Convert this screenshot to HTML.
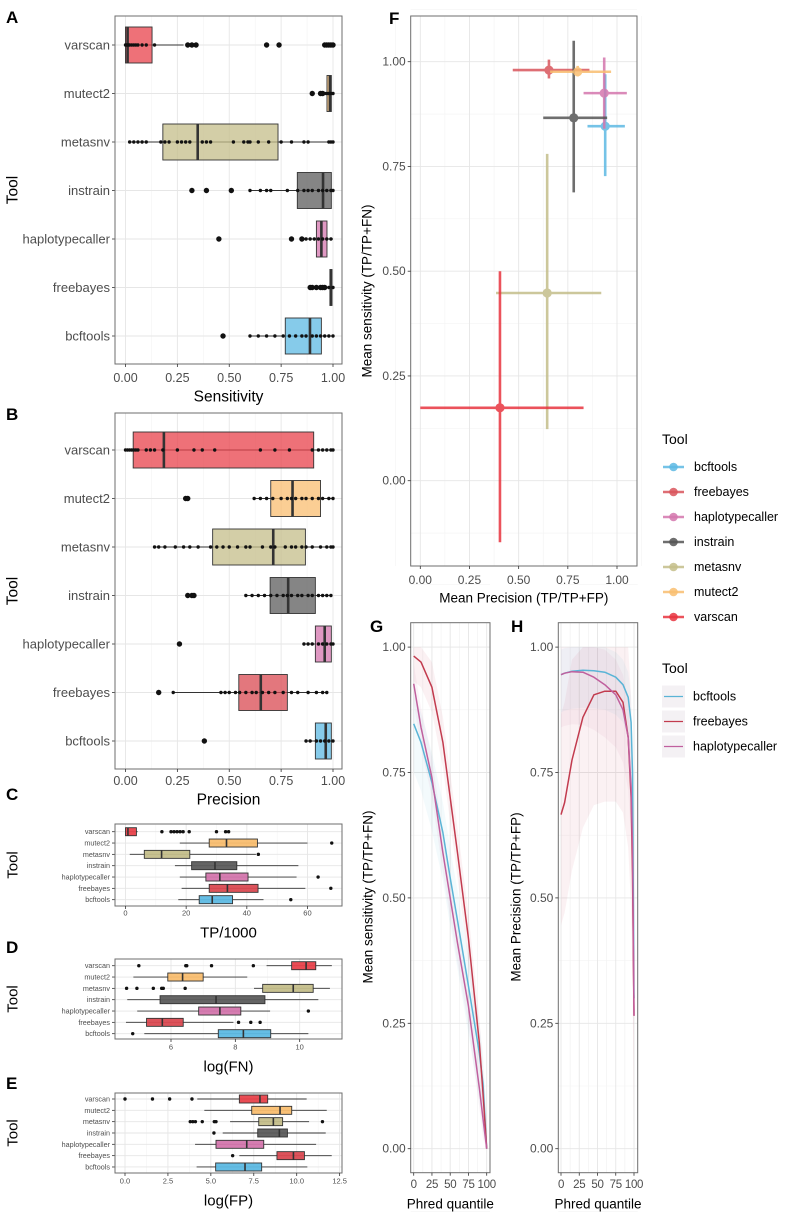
<!DOCTYPE html>
<html><head><meta charset="utf-8">
<style>
html,body{margin:0;padding:0;background:#fff;}
svg{display:block;font-family:"Liberation Sans",Arial,sans-serif;}
</style></head>
<body>
<svg id="fig" width="787" height="1217" viewBox="0 0 787 1217" xmlns="http://www.w3.org/2000/svg"></svg>
<script>
// ===== shared =====
const tools = ["varscan","mutect2","metasnv","instrain","haplotypecaller","freebayes","bcftools"];
const toolColors = ["#E8424B","#F9BE70","#C4BE8A","#5C5C5C","#D476AD","#DA4A52","#5DB9E3"];

// ===== Panel A: Sensitivity =====
const aQ1 = [0.0,0.971,0.18,0.828,0.92,0.985,0.77];
const aMed = [0.01,0.985,0.348,0.952,0.944,0.99,0.889];
const aQ3 = [0.128,0.992,0.735,0.992,0.971,0.995,0.944];
const aLo = [0.0,0.96,0.02,0.6,0.87,0.97,0.6];
const aHi = [0.28,1.0,1.0,1.0,1.0,1.0,1.0];
const aOut = [[0.3,0.32,0.34,0.68,0.74,0.96,0.97,0.98,0.99,1.0],[0.9,0.94,0.95],[],[0.32,0.39,0.51],[0.45,0.8,0.85],[0.89,0.9,0.92,0.94,0.95,0.96],[0.47]];
const aPts = [[0,0.005,0.01,0.015,0.02,0.03,0.04,0.05,0.06,0.08,0.1,0.14],[0.96,0.97,0.98,0.99,1.0],
 [0.02,0.04,0.06,0.08,0.1,0.17,0.19,0.21,0.25,0.27,0.29,0.31,0.37,0.39,0.41,0.52,0.57,0.59,0.6,0.64,0.69,0.75,0.8,0.86,0.88,0.98,0.99,1.0],
 [0.6,0.65,0.68,0.7,0.78,0.83,0.86,0.88,0.9,0.93,0.95,0.97,0.99,1.0],[0.87,0.89,0.91,0.93,0.95,0.97,0.99],[0.89,0.9,0.92,0.94,0.96,0.98,1.0],
 [0.6,0.64,0.68,0.72,0.76,0.79,0.82,0.85,0.87,0.9,0.92,0.94,0.96,0.98,1.0]];
const unitTicks = [0,0.25,0.5,0.75,1.0];
const unitTickLabels = ["0.00","0.25","0.50","0.75","1.00"];

// ===== Panel B: Precision =====
const bQ1 = [0.037,0.70,0.42,0.697,0.915,0.546,0.915];
const bMed = [0.185,0.805,0.712,0.784,0.96,0.652,0.965];
const bQ3 = [0.907,0.94,0.867,0.915,0.992,0.78,0.992];
const bLo = [0.0,0.62,0.14,0.58,0.86,0.23,0.87];
const bHi = [1.0,1.0,1.0,0.99,1.0,0.97,1.0];
const bOut = [[],[0.29,0.3],[],[0.3,0.32,0.33],[0.26],[0.16],[0.38]];
const bPts = [[0,0.01,0.02,0.03,0.04,0.05,0.06,0.1,0.12,0.14,0.18,0.25,0.33,0.37,0.43,0.65,0.72,0.79,0.9,0.93,0.95,0.97,0.99,1.0],
 [0.62,0.65,0.68,0.71,0.75,0.78,0.8,0.82,0.85,0.87,0.9,0.93,0.95,0.98,1.0],
 [0.14,0.16,0.19,0.24,0.28,0.31,0.35,0.41,0.44,0.47,0.5,0.54,0.58,0.6,0.66,0.7,0.72,0.77,0.8,0.82,0.85,0.87,0.9,0.94,0.97,0.99,1.0],
 [0.58,0.61,0.64,0.67,0.7,0.73,0.76,0.78,0.8,0.83,0.85,0.88,0.9,0.93,0.95,0.97,0.99],
 [0.86,0.88,0.9,0.93,0.95,0.97,0.99,1.0],
 [0.23,0.46,0.48,0.5,0.53,0.55,0.58,0.61,0.63,0.66,0.69,0.72,0.76,0.8,0.83,0.88,0.92,0.95,0.97],
 [0.87,0.89,0.92,0.94,0.96,0.98,1.0]];

// ===== Panel C: TP/1000 =====
const cQ1 = [0,27.6,6.2,21.8,26.5,27.6,24.3];
const cMed = [0.8,33.3,11.9,29.5,31.1,33.6,28.6];
const cQ3 = [3.6,43.5,21.2,36.7,40.4,43.7,35.3];
const cLo = [0,17.9,1.4,16.3,17.9,18.5,17.4];
const cHi = [4,60,43,57,56.4,59.3,45.5];
const cOut = [[12,15,16,17,18,19,21,30,33,34],[68],[43.8],[],[63.5],[67.7],[54.5]];
const cTicks = [0,20,40,60];
const cTickLabels = ["0","20","40","60"];

// ===== Panel D: log(FN) =====
const dQ1 = [9.75,5.9,8.85,5.66,6.86,5.24,7.47];
const dMed = [10.2,6.36,9.8,7.4,7.52,5.73,8.25];
const dQ3 = [10.5,7.0,10.42,8.92,8.17,6.38,9.1];
const dLo = [8.97,4.83,8.58,4.64,4.95,4.6,5.17];
const dHi = [11.0,8.37,10.94,10.58,9.08,7.94,10.27];
const dOut = [[5.0,6.46,6.49,7.26,8.56],[],[4.62,4.94,5.45,5.71,5.76,6.44],[],[10.27],[8.1,8.48,8.77],[4.81]];
const dTicks = [6,8,10];
const dTickLabels = ["6","8","10"];

// ===== Panel E: log(FP) =====
const eQ1 = [6.66,7.38,7.79,7.73,5.3,8.85,5.28];
const eMed = [7.86,9.03,8.64,8.99,7.09,9.81,6.99];
const eQ3 = [8.31,9.71,9.18,9.46,8.08,10.45,7.96];
const eLo = [4.21,4.62,6.12,5.69,4.08,6.66,4.17];
const eHi = [10.58,11.75,10.72,11.69,11.13,12.04,10.62];
const eOut = [[0,1.6,2.6,3.9],[],[3.8,3.95,4.1,4.5,5.2,5.3,11.5],[5.18],[],[6.27],[]];
const eTicks = [0,2.5,5,7.5,10,12.5];
const eTickLabels = ["0.0","2.5","5.0","7.5","10.0","12.5"];

// ===== Panel F =====
const fTools = ["bcftools","freebayes","haplotypecaller","instrain","metasnv","mutect2","varscan"];
const fColors = ["#5DB9E3","#D9555C","#D476AD","#555555","#C4BE8A","#F9BE70","#E8343F"];
const fPrec = [0.94,0.654,0.935,0.78,0.645,0.80,0.405];
const fSens = [0.846,0.98,0.925,0.866,0.448,0.976,0.174];
const fPrecLo = [0.85,0.47,0.83,0.625,0.385,0.66,0.0];
const fPrecHi = [1.04,0.86,1.05,0.95,0.92,0.97,0.83];
const fSensLo = [0.727,0.96,0.84,0.688,0.123,0.965,-0.147];
const fSensHi = [0.97,1.005,1.01,1.05,0.78,0.99,0.50];

// ===== Panels G/H =====
const ghTools = ["bcftools","freebayes","haplotypecaller"];
const ghColors = ["#5AB4D6","#C23B4E","#C0609E"];
const gQ = [0,10,25,40,50,60,75,90,95,100];
const gBcf = [0.847,0.81,0.73,0.63,0.54,0.455,0.325,0.19,0.13,0.0];
const gFree = [0.982,0.97,0.92,0.81,0.70,0.59,0.42,0.21,0.11,0.0];
const gHap = [0.927,0.84,0.74,0.59,0.50,0.41,0.285,0.12,0.06,0.0];
const hQ = [0,5,15,30,45,60,75,85,92,96,98,100];
const hBcf = [0.945,0.948,0.952,0.954,0.953,0.95,0.94,0.925,0.90,0.85,0.75,0.30];
const hHap = [0.945,0.948,0.951,0.95,0.94,0.925,0.905,0.875,0.82,0.72,0.6,0.265];
const hFree = [0.666,0.69,0.775,0.86,0.905,0.912,0.912,0.89,0.82,0.70,0.55,0.265];
const phredTicks = [0,25,50,75,100];
const phredLabels = ["0","25","50","75","100"];

const NS = "http://www.w3.org/2000/svg";
const svg = document.getElementById("fig");
function mk(tag, attrs, parent){ const e = document.createElementNS(NS, tag); for (const k in attrs) e.setAttribute(k, attrs[k]); (parent||svg).appendChild(e); return e; }
function txt(x, y, s, attrs, parent){ const t = mk("text", Object.assign({x:x, y:y}, attrs), parent); t.textContent = s; return t; }

function panelLetter(x, y, s){
  const t = txt(x, y, s, {"font-size":17, "font-weight":"bold", fill:"#000"});
  
  
}
function rotTitle(x, y, s, size, name){
  const t = txt(x, y, s, {"font-size":size, fill:"#000", "text-anchor":"middle", transform:"rotate(-90 "+x+" "+y+")", "dominant-baseline":"central"});
  
  
}

// ===== generic horizontal boxplot =====
function boxPanel(c){
  const g = mk("g", {});
  
  
  const sx = v => c.px0 + (v - c.v0) * c.k;
  const ry = i => c.row0 + i * c.step;
  mk("rect", {x:c.x0, y:c.y0, width:c.x1-c.x0, height:c.y1-c.y0, fill:"#fff"}, g);
  // minor grid
  for (let i = 0; i < c.ticks.length - 1; i++){
    const m = (c.ticks[i] + c.ticks[i+1]) / 2;
    mk("line", {x1:sx(m), x2:sx(m), y1:c.y0, y2:c.y1, stroke:"#F3F3F3", "stroke-width":0.6}, g);
  }
  c.ticks.forEach(t => mk("line", {x1:sx(t), x2:sx(t), y1:c.y0, y2:c.y1, stroke:"#E6E6E6", "stroke-width":0.9}, g));
  tools.forEach((t,i) => mk("line", {x1:c.x0, x2:c.x1, y1:ry(i), y2:ry(i), stroke:"#E6E6E6", "stroke-width":0.9}, g));
  tools.forEach((t,i) => {
    const y = ry(i), h = c.boxH;
    const wl = mk("line", {x1:sx(c.lo[i]), x2:sx(c.hi[i]), y1:y, y2:y, stroke:"#333", "stroke-width":c.wW}, g);
    
    
    const b = mk("rect", {x:sx(c.q1[i]), y:y-h/2, width:Math.max(1, sx(c.q3[i]) - sx(c.q1[i])), height:h, fill:toolColors[i], "fill-opacity":c.op, stroke:"#333", "stroke-width":0.9}, g);
    
    
    mk("line", {x1:sx(c.med[i]), x2:sx(c.med[i]), y1:y-h/2, y2:y+h/2, stroke:"#333", "stroke-width":c.mW}, g);
    (c.out[i]||[]).forEach(v => {
      const o = mk("circle", {cx:sx(v), cy:y, r:c.outR, fill:"#111"}, g);
      
      
    });
    if (c.pts) c.pts[i].forEach(v => {
      const p = mk("circle", {cx:sx(v), cy:y, r:1.7, fill:"#111"}, g);
      
      
    });
    // y tick & label
    mk("line", {x1:c.x0-3, x2:c.x0, y1:y, y2:y, stroke:"#333", "stroke-width":0.8}, g);
    const l = txt(c.x0-5, y, t, {"font-size":c.ls, fill:"#4D4D4D", "text-anchor":"end", "dominant-baseline":"central"}, g);
    
    
  });
  mk("rect", {x:c.x0, y:c.y0, width:c.x1-c.x0, height:c.y1-c.y0, fill:"none", stroke:"#6E6E6E", "stroke-width":1}, g);
  c.ticks.forEach((t,i) => {
    mk("line", {x1:sx(t), x2:sx(t), y1:c.y1, y2:c.y1+3, stroke:"#333", "stroke-width":0.8}, g);
    const l = txt(sx(t), c.tickY, c.tickLabels[i], {"font-size":c.ts, fill:"#4D4D4D", "text-anchor":"middle", "dominant-baseline":"central"}, g);
    
    
  });
  const tt = txt((c.x0+c.x1)/2, c.titleY, c.title, {"font-size":c.tsz, fill:"#000", "text-anchor":"middle", "dominant-baseline":"central"}, g);
  
  
  rotTitle(13, (c.y0+c.y1)/2, "Tool", c.tsz, "y-axis-title");
}

boxPanel({name:"panel-a-sensitivity", x0:115, x1:342, y0:16, y1:364, px0:125.5, v0:0, k:207.5, row0:45, step:48.5, boxH:36, ticks:unitTicks, tickLabels:unitTickLabels, q1:aQ1, med:aMed, q3:aQ3, lo:aLo, hi:aHi, out:aOut, pts:aPts, op:0.75, wW:1.1, mW:2.6, outR:2.7, ls:13, ts:12.5, tickY:378, title:"Sensitivity", titleY:397, tsz:15.5});
boxPanel({name:"panel-b-precision", x0:115, x1:342, y0:413, y1:769, px0:125.5, v0:0, k:207.5, row0:450, step:48.5, boxH:36, ticks:unitTicks, tickLabels:unitTickLabels, q1:bQ1, med:bMed, q3:bQ3, lo:bLo, hi:bHi, out:bOut, pts:bPts, op:0.75, wW:1.1, mW:2.6, outR:2.7, ls:13, ts:12.5, tickY:781, title:"Precision", titleY:800, tsz:15.5});
boxPanel({name:"panel-c-tp", x0:115, x1:342, y0:824, y1:906, px0:125.5, v0:0, k:3.033, row0:831.7, step:11.33, boxH:8, ticks:cTicks, tickLabels:cTickLabels, q1:cQ1, med:cMed, q3:cQ3, lo:cLo, hi:cHi, out:cOut, pts:null, op:0.95, wW:0.9, mW:1.6, outR:1.7, ls:7.2, ts:7.5, tickY:913, title:"TP/1000", titleY:933, tsz:15});
boxPanel({name:"panel-d-fn", x0:115, x1:342, y0:959, y1:1039, px0:171, v0:6, k:32.17, row0:965.7, step:11.33, boxH:8, ticks:dTicks, tickLabels:dTickLabels, q1:dQ1, med:dMed, q3:dQ3, lo:dLo, hi:dHi, out:dOut, pts:null, op:0.95, wW:0.9, mW:1.6, outR:1.7, ls:7.2, ts:7.5, tickY:1047, title:"log(FN)", titleY:1067, tsz:15});
boxPanel({name:"panel-e-fp", x0:115, x1:342, y0:1093, y1:1173, px0:125, v0:0, k:17.17, row0:1099, step:11.33, boxH:8, ticks:eTicks, tickLabels:eTickLabels, q1:eQ1, med:eMed, q3:eQ3, lo:eLo, hi:eHi, out:eOut, pts:null, op:0.95, wW:0.9, mW:1.6, outR:1.7, ls:7.2, ts:7.5, tickY:1181, title:"log(FP)", titleY:1201, tsz:15});

panelLetter(6, 23, "A");
panelLetter(6, 420, "B");
panelLetter(6, 800, "C");
panelLetter(6, 953, "D");
panelLetter(6, 1089, "E");

// ===== Panel F =====
(function(){
  const x0=410.7, x1=637, y0=16, y1=566;
  const sx = v => 420.3 + v*196.7;
  const sy = v => 480.7 - v*419;
  const g = mk("g", {});
  
  
  for (let v=-0.125; v<=1.126; v+=0.25){
    mk("line", {x1:sx(v), x2:sx(v), y1:y0, y2:y1, stroke:"#F3F3F3", "stroke-width":0.6}, g);
    mk("line", {x1:x0, x2:x1, y1:sy(v), y2:sy(v), stroke:"#F3F3F3", "stroke-width":0.6}, g);
  }
  unitTicks.forEach(v => {
    mk("line", {x1:sx(v), x2:sx(v), y1:y0, y2:y1, stroke:"#E6E6E6", "stroke-width":0.9}, g);
    mk("line", {x1:x0, x2:x1, y1:sy(v), y2:sy(v), stroke:"#E6E6E6", "stroke-width":0.9}, g);
  });
  fTools.forEach((t,i) => {
    const gg = mk("g", {opacity:0.85}, g);
    
    
    mk("line", {x1:sx(fPrecLo[i]), x2:sx(fPrecHi[i]), y1:sy(fSens[i]), y2:sy(fSens[i]), stroke:fColors[i], "stroke-width":2.6}, gg);
    mk("line", {x1:sx(fPrec[i]), x2:sx(fPrec[i]), y1:sy(fSensLo[i]), y2:sy(fSensHi[i]), stroke:fColors[i], "stroke-width":2.6}, gg);
    const p = mk("circle", {cx:sx(fPrec[i]), cy:sy(fSens[i]), r:4.6, fill:fColors[i]}, gg);
    
    
  });
  mk("rect", {x:x0, y:y0, width:x1-x0, height:y1-y0, fill:"none", stroke:"#6E6E6E", "stroke-width":1}, g);
  unitTicks.forEach((v,i) => {
    mk("line", {x1:sx(v), x2:sx(v), y1:y1, y2:y1+3, stroke:"#333", "stroke-width":0.8}, g);
    const a = txt(sx(v), 580, unitTickLabels[i], {"font-size":12, fill:"#4D4D4D", "text-anchor":"middle", "dominant-baseline":"central"}, g);
    
    
    mk("line", {x1:x0-3, x2:x0, y1:sy(v), y2:sy(v), stroke:"#333", "stroke-width":0.8}, g);
    const b = txt(x0-5, sy(v), unitTickLabels[i], {"font-size":12, fill:"#4D4D4D", "text-anchor":"end", "dominant-baseline":"central"}, g);
    
    
  });
  const xt = txt((x0+x1)/2, 598, "Mean Precision (TP/TP+FP)", {"font-size":13.5, fill:"#000", "text-anchor":"middle", "dominant-baseline":"central"}, g);
  
  
  rotTitle(367, 291, "Mean sensitivity (TP/TP+FN)", 13.5, "y-axis-title");
  panelLetter(389, 24, "F");
  // legend
  const lg = mk("g", {}, g);
  
  
  const lt = txt(662, 439, "Tool", {"font-size":14, fill:"#000", "dominant-baseline":"central"}, lg);
  
  
  fTools.forEach((t,i) => {
    const y = 467 + i*25;
    const e = mk("g", {}, lg);
    
    
    mk("line", {x1:663, x2:684, y1:y, y2:y, stroke:fColors[i], "stroke-width":2.6, opacity:0.85}, e);
    mk("circle", {cx:673.5, cy:y, r:4.3, fill:fColors[i], opacity:0.85}, e);
    txt(694, y, t, {"font-size":12.5, fill:"#000", "dominant-baseline":"central"}, e);
  });
})();

// ===== Panels G & H =====
function linePanel(c){
  const g = mk("g", {});
  
  
  const sx = q => c.qx0 + q*0.73;
  const sy = v => 1148.7 - v*501.6;
  const y0=622.7, y1=1172.7;
  for (let q=12.5; q<100; q+=25) mk("line", {x1:sx(q), x2:sx(q), y1:y0, y2:y1, stroke:"#F0F0F0", "stroke-width":0.6}, g);
  for (let v=-0.125; v<=1.126; v+=0.25) mk("line", {x1:c.x0, x2:c.x1, y1:sy(v), y2:sy(v), stroke:"#F3F3F3", "stroke-width":0.6}, g);
  phredTicks.forEach(q => mk("line", {x1:sx(q), x2:sx(q), y1:y0, y2:y1, stroke:"#E6E6E6", "stroke-width":0.9}, g));
  unitTicks.forEach(v => mk("line", {x1:c.x0, x2:c.x1, y1:sy(v), y2:sy(v), stroke:"#E6E6E6", "stroke-width":0.9}, g));
  // ribbons
  c.series.forEach((s,i) => {
    let d = "";
    c.q.forEach((q,j) => { d += (j?"L":"M") + sx(q).toFixed(1) + "," + sy(Math.min(1, s[j] + c.band[i])).toFixed(1); });
    for (let j=c.q.length-1; j>=0; j--) d += "L" + sx(c.q[j]).toFixed(1) + "," + sy(Math.max(0, s[j] - c.band[i]*c.bandLo[i])).toFixed(1);
    const r = mk("path", {d:d+"Z", fill:ghColors[i], "fill-opacity":0.07}, g);
    
    
  });
  c.series.forEach((s,i) => {
    const d = c.q.map((q,j) => (j?"L":"M") + sx(q).toFixed(1) + "," + sy(s[j]).toFixed(1)).join("");
    const p = mk("path", {d:d, fill:"none", stroke:ghColors[i], "stroke-width":1.5, "stroke-linejoin":"round"}, g);
    
    
  });
  mk("rect", {x:c.x0, y:y0, width:c.x1-c.x0, height:y1-y0, fill:"none", stroke:"#6E6E6E", "stroke-width":1}, g);
  phredTicks.forEach((q,i) => {
    mk("line", {x1:sx(q), x2:sx(q), y1:y1, y2:y1+3, stroke:"#333", "stroke-width":0.8}, g);
    const a = txt(sx(q), 1185, phredLabels[i], {"font-size":11.5, fill:"#4D4D4D", "text-anchor":"middle", "dominant-baseline":"central", "letter-spacing":"-0.3"}, g);
    
    
  });
  unitTicks.forEach((v,i) => {
    mk("line", {x1:c.x0-3, x2:c.x0, y1:sy(v), y2:sy(v), stroke:"#333", "stroke-width":0.8}, g);
    const b = txt(c.x0-5, sy(v), unitTickLabels[i], {"font-size":12, fill:"#4D4D4D", "text-anchor":"end", "dominant-baseline":"central"}, g);
    
    
  });
  const xt = txt((c.x0+c.x1)/2, 1204, "Phred quantile", {"font-size":13.5, fill:"#000", "text-anchor":"middle", "dominant-baseline":"central"}, g);
  
  
  rotTitle(c.ytx, 897, c.ytitle, 13.5, "y-axis-title");
}
linePanel({name:"panel-g-sensitivity-curve", x0:410.7, x1:490, qx0:413.7, q:gQ, series:[gBcf,gFree,gHap], band:[0.06,0.05,0.04], bandLo:[1.6,1,1], ytitle:"Mean sensitivity (TP/TP+FN)", ytx:368});
linePanel({name:"panel-h-precision-curve", x0:558.3, x1:637.7, qx0:561, q:hQ, series:[hBcf,hFree,hHap], band:[0.05,0.2,0.07], bandLo:[1.5,1.1,1.5], ytitle:"Mean Precision (TP/TP+FP)", ytx:516});
panelLetter(370, 632, "G");
panelLetter(511, 632, "H");

// legend G/H
(function(){
  const lg = mk("g", {});
  
  
  const lt = txt(662, 668, "Tool", {"font-size":14, fill:"#000", "dominant-baseline":"central"}, lg);
  
  
  ghTools.forEach((t,i) => {
    const y = 696.5 + i*25;
    const e = mk("g", {}, lg);
    
    
    mk("rect", {x:662, y:y-11, width:23, height:22, fill:"#F4F1F4"}, e);
    mk("line", {x1:664, x2:683, y1:y, y2:y, stroke:ghColors[i], "stroke-width":1.3}, e);
    txt(693, y, t, {"font-size":12.5, fill:"#000", "dominant-baseline":"central"}, e);
  });
})();
</script>
</body></html>
